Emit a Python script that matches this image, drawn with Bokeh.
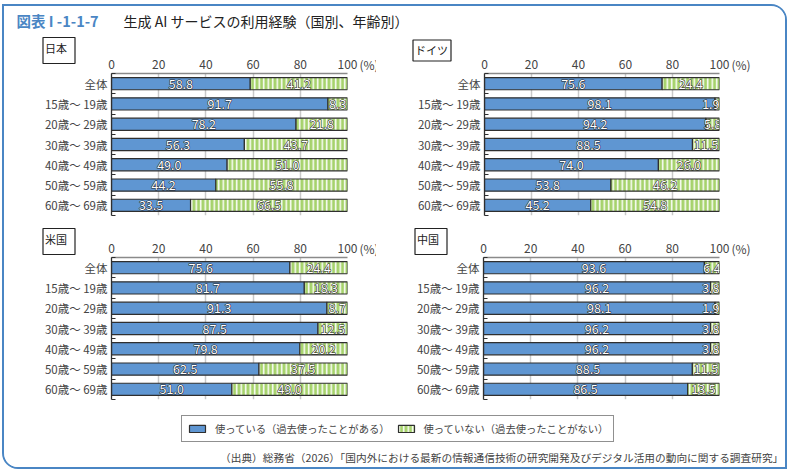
from bokeh.core.properties import value
from bokeh.embed import file_html
from bokeh.resources import INLINE
from bokeh.layouts import column, row
from bokeh.models import ColumnDataSource, FixedTicker, Label, Legend, LegendItem, Range1d
from bokeh.plotting import figure

ages = ["全体", "15歳〜 19歳", "20歳〜 29歳", "30歳〜 39歳", "40歳〜 49歳", "50歳〜 59歳", "60歳〜 69歳"]
japan_used = [58.8, 91.7, 78.2, 56.3, 49.0, 44.2, 33.5]
japan_not = [41.2, 8.3, 21.8, 43.7, 51.0, 55.8, 66.5]
germany_used = [75.6, 98.1, 94.2, 88.5, 74.0, 53.8, 45.2]
germany_not = [24.4, 1.9, 5.8, 11.5, 26.0, 46.2, 54.8]
usa_used = [75.6, 81.7, 91.3, 87.5, 79.8, 62.5, 51.0]
usa_not = [24.4, 18.3, 8.7, 12.5, 20.2, 37.5, 49.0]
china_used = [93.6, 96.2, 98.1, 96.2, 96.2, 88.5, 86.5]
china_not = [6.4, 3.8, 1.9, 3.8, 3.8, 11.5, 13.5]
x_ticks = [0, 20, 40, 60, 80, 100]
legend_labels = ["使っている（過去使ったことがある）", "使っていない（過去使ったことがない）"]
title_no = "図表 I -1-1-7"
title_text = "生成 AI サービスの利用経験（国別、年齢別）"
source_text = "（出典）総務省（2026）「国内外における最新の情報通信技術の研究開発及びデジタル活用の動向に関する調査研究」"

FONT = "Noto Sans CJK JP"
BLUE = "#5f96d2"
GREEN = "#a6d26c"
EDGE = "#2f2f2f"
FRAME = "#4a86c4"
TEXT = "#444444"
TICK_SIZE = "12px"


def green_style():
    return dict(fill_color=GREEN, hatch_pattern="vertical_line", hatch_color="white",
                hatch_scale=4.5, hatch_weight=1.5, line_color=EDGE, line_width=1.2)


def panel(name, used, unused, width, right, label_up, pad_x):
    n_rows = len(ages)
    centers = [i + 0.5 for i in range(n_rows)]
    boundaries = list(range(n_rows + 1))
    p = figure(width=width, height=184, output_backend="svg", toolbar_location=None,
               x_range=Range1d(0, 100), y_range=Range1d(n_rows, 0),
               x_axis_location="above", min_border_left=107, min_border_right=right,
               min_border_top=36, min_border_bottom=6, outline_line_color=None,
               background_fill_color="white", border_fill_color="white")
    src = ColumnDataSource(dict(y=centers, used=used, unused=unused,
                                total=[a + b for a, b in zip(used, unused)]))
    p.hbar(y="y", left=0, right="used", height=0.6, source=src,
           fill_color=BLUE, line_color=EDGE, line_width=1.2)
    p.hbar(y="y", left="used", right="total", height=0.6, source=src, **green_style())

    xa = p.xaxis[0]
    xa.ticker = FixedTicker(ticks=x_ticks)
    xa.major_tick_line_color = None
    xa.minor_tick_line_color = None
    xa.major_tick_out = 0
    xa.major_tick_in = 0
    xa.minor_tick_out = 0
    xa.axis_line_color = "#8a8a8a"
    xa.axis_line_width = 1.5
    xa.major_label_standoff = 5
    xa.major_label_text_font = FONT
    xa.major_label_text_font_size = TICK_SIZE
    xa.major_label_text_color = TEXT
    ya = p.yaxis[0]
    ya.ticker = FixedTicker(ticks=centers, minor_ticks=boundaries)
    ya.major_label_overrides = dict(zip(centers, ages))
    ya.major_tick_line_color = None
    ya.major_tick_out = 0
    ya.major_tick_in = 0
    ya.minor_tick_line_color = EDGE
    ya.minor_tick_line_width = 1.2
    ya.minor_tick_in = 4
    ya.minor_tick_out = 0
    ya.axis_line_color = EDGE
    ya.axis_line_width = 1.3
    ya.major_label_standoff = 4
    ya.major_label_text_font = FONT
    ya.major_label_text_font_size = "11.5px"
    ya.major_label_text_color = TEXT
    p.ygrid.visible = False
    p.xgrid.ticker = FixedTicker(ticks=x_ticks)
    p.xgrid.grid_line_color = "#c9c9c9"
    p.xgrid.grid_line_width = 1.5

    text_style = dict(text_font=value(FONT), text_font_size="12.5px", text_baseline="middle")
    rows_mid, rows_right = [], []
    for c, u, n in zip(centers, used, unused):
        rows_mid.append((c, u / 2, f"{u:.1f}"))
        if n < 4:
            rows_right.append((c, 100, f"{n:.1f}"))
        else:
            rows_mid.append((c, u + n / 2, f"{n:.1f}"))
    for rows, align in ((rows_mid, "center"), (rows_right, "right")):
        if not rows:
            continue
        xs = [r[1] for r in rows]
        ys = [r[0] for r in rows]
        texts = [r[2] for r in rows]
        # dark edge underneath, white face on top
        p.text(x=xs, y=ys, text=texts, text_align=align, text_color="#222222",
               text_outline_color="#222222", **text_style)
        p.text(x=xs, y=ys, text=texts, text_align=align, text_color="white", **text_style)

    p.add_layout(Label(x=100, y=0, x_offset=12, y_offset=9, text="(%)",
                       text_font=FONT, text_font_size=TICK_SIZE, text_color=TEXT,
                       text_baseline="middle", text_align="left"), "right")
    p.add_layout(Label(x=0, y=0, x_offset=-52.5, y_offset=label_up, text=name,
                       text_font=FONT, text_font_size="11px", text_color="#222222",
                       text_baseline="middle", text_align="center", padding=[2, pad_x, 2, pad_x],
                       border_line_color="#222222", border_line_width=1.2,
                       background_fill_color="white"), "left")
    return p


def blank(width, height):
    p = figure(width=width, height=height, output_backend="svg", toolbar_location=None,
               x_range=Range1d(0, 1), y_range=Range1d(0, 1), min_border=0,
               outline_line_color=None, x_axis_type=None, y_axis_type=None,
               border_fill_color="white", background_fill_color="white")
    p.grid.visible = False
    return p


header = blank(781, 31)
header.add_layout(Label(x=12, y=17, x_units="screen", y_units="screen", text=title_no,
                        text_font=FONT, text_font_size="14.5px", text_font_style="bold",
                        text_color=FRAME, text_baseline="middle"))
header.add_layout(Label(x=119, y=17, x_units="screen", y_units="screen", text=title_text,
                        text_font=FONT, text_font_size="14px", text_color="#222222",
                        text_baseline="middle"))

footer = blank(781, 62)
nan = float("nan")
off_canvas = ColumnDataSource(dict(left=[nan], right=[nan], bottom=[nan], top=[nan]))
r1 = footer.quad(left="left", right="right", bottom="bottom", top="top", source=off_canvas,
                 fill_color=BLUE, line_color=EDGE, line_width=1.2)
r2 = footer.quad(left="left", right="right", bottom="bottom", top="top", source=off_canvas,
                 **green_style())
legend = Legend(items=[LegendItem(label=legend_labels[0], renderers=[r1]),
                       LegendItem(label=legend_labels[1], renderers=[r2])],
                orientation="horizontal", location=(177, 25), glyph_width=20, glyph_height=9,
                label_text_font=FONT, label_text_font_size="10.3px", label_text_color=TEXT,
                border_line_color="#222222", border_line_width=1.2, padding=5, margin=0, spacing=6,
                label_standoff=8, background_fill_alpha=1)
footer.add_layout(legend)
footer.add_layout(Label(x=779, y=10, x_units="screen", y_units="screen", text=source_text,
                        text_font=FONT, text_font_size="10.7px", text_color=TEXT,
                        text_align="right", text_baseline="middle"))

jp = panel("日本", japan_used, japan_not, 372, 29, 23, 8)
de = panel("ドイツ", germany_used, germany_not, 409, 66, 23, 3)
us = panel("米国", usa_used, usa_not, 372, 29, 16, 8)
cn = panel("中国", china_used, china_not, 409, 66, 16, 8)

root = column(header, row(jp, de, spacing=0), row(us, cn, spacing=0), footer, spacing=0,
              styles={"margin": "4px 0 0 2px", "border": f"2px solid {FRAME}",
                      "border-radius": "0 16px 0 16px", "overflow": "hidden",
                      "background": "white"})

open("out.html", "w").write(file_html(root, INLINE))
